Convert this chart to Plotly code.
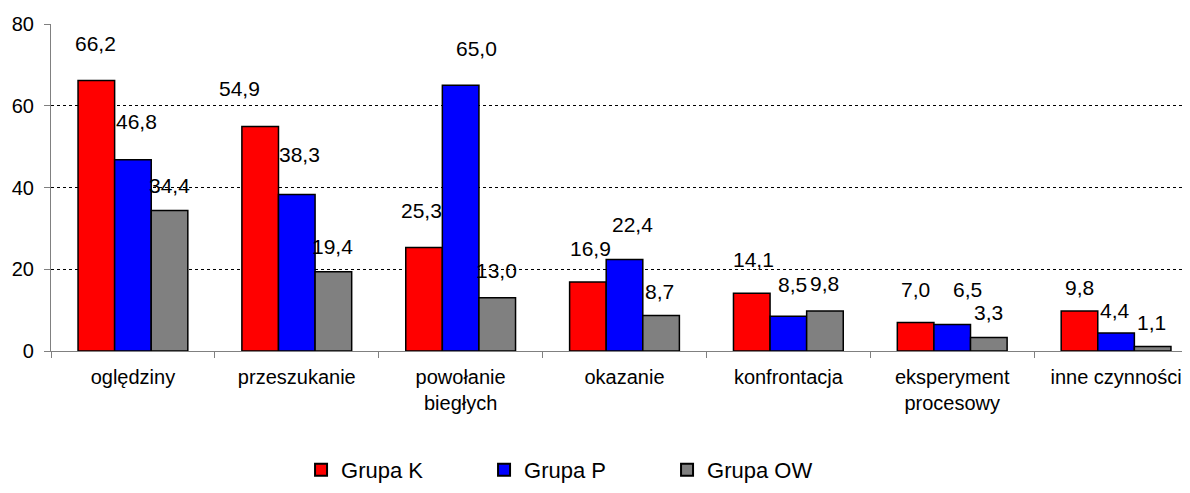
import plotly.graph_objects as go

categories = ["oględziny", "przeszukanie", "powołanie<br>biegłych", "okazanie",
              "konfrontacja", "eksperyment<br>procesowy", "inne czynności"]
grupa_k = [66.2, 54.9, 25.3, 16.9, 14.1, 7.0, 9.8]
grupa_p = [46.8, 38.3, 65.0, 22.4, 8.5, 6.5, 4.4]
grupa_ow = [34.4, 19.4, 13.0, 8.7, 9.8, 3.3, 1.1]
y_ticks = [0, 20, 40, 60, 80]

# label placement offsets in px (dx, dy up) relative to bar top centre, as in the reference
off_k = [(1, 37), (-19, 38), (-1, 37), (4, 33), (3, 34), (1, 33), (1, 23)]
off_p = [(5, 38), (4, 40), (17, 37), (9, 35), (6, 32), (17, 35), (0, 23)]
off_ow = [(2, 25), (1, 25), (1, 27), (0, 24), (1, 27), (1, 25), (0, 24)]

FONT = "Liberation Sans, Arial, sans-serif"
series = [
    ("Grupa K", grupa_k, "#FF0000", off_k, -36.5),
    ("Grupa P", grupa_p, "#0000FF", off_p, 0.0),
    ("Grupa OW", grupa_ow, "#808080", off_ow, 36.5),
]

fig = go.Figure()
annotations = []
for name, vals, color, offs, sx in series:
    fig.add_trace(go.Bar(
        name=name, x=categories, y=vals,
        marker=dict(color=color, line=dict(color="black", width=1.5)),
    ))
    for c, v, (dx, dy) in zip(categories, vals, offs):
        annotations.append(dict(
            x=c, y=v, xref="x", yref="y", text=f"{v:.1f}".replace(".", ","),
            showarrow=False, xanchor="center", yanchor="middle",
            xshift=sx + dx - 1.5, yshift=dy,
            font=dict(family=FONT, size=21, color="black"),
        ))

fig.update_layout(
    width=1190, height=493,
    margin=dict(l=43, r=0, t=16, b=150),
    paper_bgcolor="white", plot_bgcolor="white",
    barmode="group", bargap=0.33, bargroupgap=0,
    font=dict(family=FONT, size=20, color="black"),
    annotations=annotations,
    legend=dict(orientation="h", x=0.218, xanchor="left", y=-0.364, yanchor="middle",
                font=dict(family=FONT, size=22, color="black"),
                entrywidth=138, entrywidthmode="pixels", itemsizing="constant"),
    showlegend=True,
)
fig.update_xaxes(
    type="category", range=[-0.5, 6.5],
    showline=True, linecolor="#808080", linewidth=1.2,
    ticks="outside", ticklen=6, tickcolor="#808080", tickson="boundaries",
    tickfont=dict(family=FONT, size=20, color="black"),
    ticklabelstandoff=8,
    showgrid=False, zeroline=False,
)
fig.update_yaxes(
    range=[0, 80], tickvals=y_ticks, ticktext=[str(t) for t in y_ticks],
    showline=True, linecolor="#808080", linewidth=1.2,
    ticks="outside", ticklen=6, tickcolor="#808080",
    tickfont=dict(family=FONT, size=20, color="black"),
    ticklabelstandoff=6,
    showgrid=True, gridcolor="black", gridwidth=0.6, griddash="3px,3px",
    zeroline=False,
)
fig.write_html("out.html")
